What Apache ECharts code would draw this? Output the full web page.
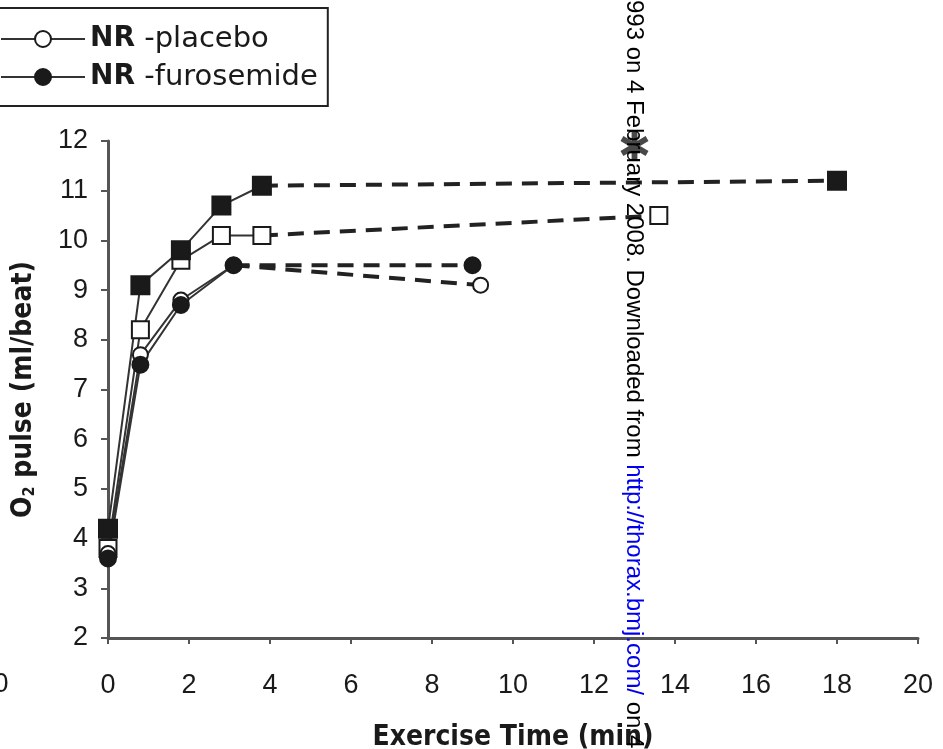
<!DOCTYPE html>
<html>
<head>
<meta charset="utf-8">
<script src="https://cdn.jsdelivr.net/npm/echarts@6/dist/echarts.min.js"></script>
<style>
  html, body { margin: 0; padding: 0; background: #fff; }
  #chart { width: 943px; height: 749px; }
</style>
</head>
<body>
<div id="chart"></div>
<script>
// ===== data (exercise time in min, O2 pulse in ml/beat) =====
const nrPlacebo      = [[0, 3.7], [0.8, 7.7], [1.8, 8.8], [3.1, 9.5]];
const nrPlaceboEnd   = [9.2, 9.1];
const nrFurosemide    = [[0, 3.6], [0.8, 7.5], [1.8, 8.7], [3.1, 9.5]];
const nrFurosemideEnd = [9.0, 9.5];
const sqPlacebo      = [[0, 3.8], [0.8, 8.2], [1.8, 9.6], [2.8, 10.1], [3.8, 10.1]];
const sqPlaceboEnd   = [13.6, 10.5];
const sqFurosemide    = [[0, 4.2], [0.8, 9.1], [1.8, 9.8], [2.8, 10.7], [3.8, 11.1]];
const sqFurosemideEnd = [18.0, 11.2];
const starPoint = [13.0, 11.9];

const legendNames = ['NR -placebo', 'NR -furosemide'];

const INK = '#1a1a1a';
const TITLE_FONT = '"DejaVu Sans Condensed", "Liberation Sans", sans-serif';
const ASTERISK = 'path://M-2,10L2,10L2,-10L-2,-10Z' +
  'M7.66,6.73L9.66,3.27L-7.66,-6.73L-9.66,-3.27Z' +
  'M9.66,-3.27L7.66,-6.73L-9.66,3.27L-7.66,6.73Z';

// solid part with markers
function solidSeries(name, data, symbol, size, open) {
  return {
    name, type: 'line', data, symbol, symbolSize: size, z: 5,
    lineStyle: { color: '#333', width: 2 },
    itemStyle: { color: open ? '#fff' : INK, borderColor: INK, borderWidth: 2 },
    emphasis: { disabled: true }
  };
}

// dashed tail from the last measured point to the end point
function dashedSeries(name, from, to, symbol, size, open) {
  return {
    name, type: 'line', z: 3,
    data: [{ value: from, symbol: 'none' }, { value: to }],
    symbol, symbolSize: size,
    lineStyle: { color: '#222', width: 4, type: [16, 10] },
    itemStyle: { color: open ? '#fff' : INK, borderColor: INK, borderWidth: 2 },
    emphasis: { disabled: true }
  };
}

const chart = echarts.init(document.getElementById('chart'), null, { renderer: 'canvas' });

const option = {
  animation: false,
  grid: { left: 108, right: 25, top: 141, bottom: 111, outerBoundsMode: 'none', containLabel: false },
  legend: {
    data: legendNames,
    orient: 'vertical',
    left: -8, top: 8,
    padding: [16, 10, 14, 8],
    itemWidth: 84, itemHeight: 20, itemGap: 8,
    borderColor: '#222', borderWidth: 2,
    textStyle: {
      fontFamily: 'DejaVu Sans', fontSize: 29, color: INK, lineHeight: 30,
      rich: { b: { fontFamily: 'DejaVu Sans', fontWeight: 'bold', fontSize: 28, color: INK } }
    },
    formatter: name => '{b|' + name.slice(0, 2) + '}' + name.slice(2)
  },
  xAxis: {
    type: 'value', min: 0, max: 20, interval: 2,
    name: 'Exercise Time (min)', nameLocation: 'middle', nameGap: 86,
    nameTextStyle: { fontFamily: TITLE_FONT, fontWeight: 'bold', fontSize: 28, color: INK },
    axisLine: { lineStyle: { color: '#555', width: 3 } },
    axisTick: { length: 6, lineStyle: { color: '#555', width: 2 } },
    axisLabel: { margin: 34, fontFamily: 'Liberation Sans', fontSize: 27, color: INK },
    splitLine: { show: false }
  },
  yAxis: {
    type: 'value', min: 2, max: 12, interval: 1,
    name: 'O{s|2} pulse (ml/beat)', nameLocation: 'middle', nameGap: 70,
    nameTextStyle: {
      fontFamily: TITLE_FONT, fontWeight: 'bold', fontSize: 28, color: INK,
      rich: { s: { fontFamily: TITLE_FONT, fontWeight: 'bold', fontSize: 16, color: INK, verticalAlign: 'bottom' } }
    },
    axisLine: { show: true, lineStyle: { color: '#555', width: 3 } },
    axisTick: { show: true, length: 7, lineStyle: { color: '#555', width: 2 } },
    axisLabel: { margin: 20, fontFamily: 'Liberation Sans', fontSize: 27, color: INK },
    splitLine: { show: false }
  },
  series: [
    dashedSeries('sq-furosemide tail', sqFurosemide[sqFurosemide.length - 1], sqFurosemideEnd, 'rect', 18, false),
    dashedSeries('sq-placebo tail', sqPlacebo[sqPlacebo.length - 1], sqPlaceboEnd, 'rect', 17, true),
    dashedSeries('NR-furosemide tail', nrFurosemide[nrFurosemide.length - 1], nrFurosemideEnd, 'circle', 16, false),
    dashedSeries('NR-placebo tail', nrPlacebo[nrPlacebo.length - 1], nrPlaceboEnd, 'circle', 15, true),
    solidSeries('sq-placebo', sqPlacebo, 'rect', 17, true),
    solidSeries('NR -placebo', nrPlacebo, 'circle', 15, true),
    solidSeries('NR -furosemide', nrFurosemide, 'circle', 16, false),
    solidSeries('sq-furosemide', sqFurosemide, 'rect', 18, false),
    {
      name: 'significance', type: 'scatter', data: [starPoint],
      symbol: ASTERISK, symbolSize: [28, 30], z: 6,
      itemStyle: { color: INK }
    }
  ],
  graphic: [
    // leftover tick label of the neighbouring panel
    {
      type: 'text', x: 1, y: 685, z: 50,
      style: { text: '0', font: '27px "Liberation Sans"', fill: INK, textAlign: 'center', textVerticalAlign: 'middle' }
    },
    // vertical download stamp
    {
      type: 'text', x: 634, y: 0, z: 100, rotation: -Math.PI / 2,
      style: {
        text: '993 on 4 February 2008. Downloaded from {u|http://thorax.bmj.com/} on 4',
        font: '24px "Liberation Sans"', fill: '#000',
        textAlign: 'left', textVerticalAlign: 'middle',
        rich: { u: { fill: '#0000ee', fontSize: 24, fontFamily: 'Liberation Sans' } }
      }
    }
  ]
};

chart.setOption(option);
</script>
</body>
</html>
